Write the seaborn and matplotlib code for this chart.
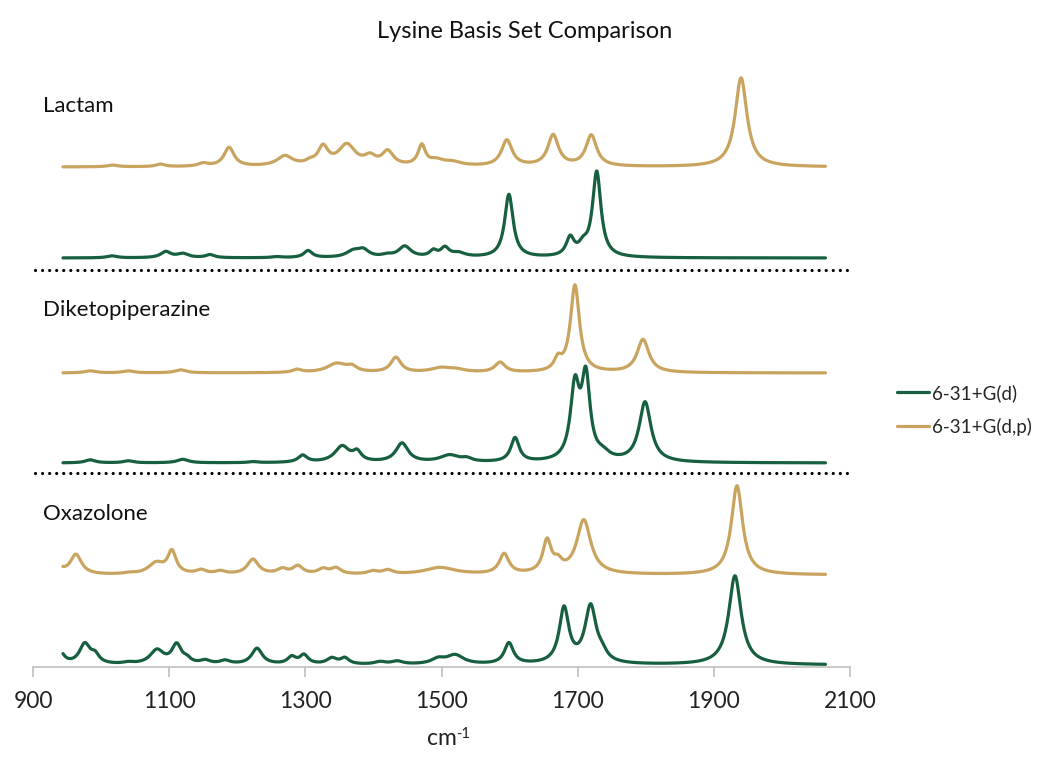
import numpy as np
import pandas as pd
import seaborn as sns
import matplotlib.pyplot as plt
from matplotlib.lines import Line2D

# ---- peak tables (cm-1, relative intensity, FWHM cm-1) ----
lactam_dp_pos = [1017, 1087, 1150, 1188, 1270, 1307, 1326, 1361, 1395, 1421, 1471, 1492, 1515, 1596, 1664, 1720, 1940]
lactam_dp_int = [1.7, 2.5, 3, 19, 10, 3, 18, 21, 8, 14, 20, 5, 4, 26, 31, 31, 89]
lactam_dp_fwhm = [18, 16, 18, 18, 28, 16, 18, 30, 20, 20, 13, 24, 34, 19, 19, 19, 21]

lactam_d_pos = [1016, 1095, 1120, 1160, 1258, 1304, 1370, 1385, 1420, 1446, 1488, 1505, 1525, 1599, 1689, 1708, 1728]
lactam_d_int = [2, 6, 4, 3, 1, 7, 6, 7, 2, 11, 6, 9, 4, 63, 18, 9, 85]
lactam_d_fwhm = [18, 18, 20, 16, 18, 15, 24, 20, 18, 22, 13, 15, 24, 15, 14, 16, 15]

dkp_dp_pos = [984, 1040, 1117, 1288, 1346, 1368, 1433, 1498, 1520, 1586, 1671, 1696, 1796]
dkp_dp_int = [2, 2, 3, 3, 9, 5, 15, 4, 3, 10, 11, 87, 33]
dkp_dp_fwhm = [20, 20, 20, 16, 34, 18, 18, 34, 34, 18, 13, 16, 21]

dkp_d_pos = [984, 1040, 1120, 1223, 1296, 1354, 1376, 1442, 1512, 1537, 1608, 1696, 1712, 1737, 1799]
dkp_d_int = [3, 2, 3.5, 1, 7, 16, 9, 19, 7, 3, 24, 72, 80, 6, 60]
dkp_d_fwhm = [18, 18, 20, 16, 16, 26, 15, 22, 34, 18, 15, 16, 15, 24, 21]

oxa_dp_pos = [940, 963, 1040, 1081, 1104, 1147, 1175, 1223, 1266, 1289, 1326, 1345, 1399, 1421, 1498, 1592, 1655, 1671, 1709, 1934]
oxa_dp_int = [5, 20, 1, 11, 22, 4, 3, 15, 5, 8, 5, 6, 3, 4, 7, 20, 32, 9, 54, 89]
oxa_dp_fwhm = [16, 20, 18, 28, 15, 18, 18, 20, 18, 18, 18, 18, 18, 18, 54, 17, 15, 15, 25, 20]

oxa_d_pos = [940, 976, 991, 1040, 1082, 1111, 1126, 1153, 1182, 1229, 1280, 1298, 1339, 1358, 1410, 1435, 1495, 1520, 1599, 1680, 1719, 1736, 1931]
oxa_d_int = [12, 20, 8, 1.5, 14, 19, 4, 3.5, 3.5, 16, 7, 9, 6, 6, 2.5, 3, 5, 9, 21, 55, 57, 7, 89]
oxa_d_fwhm = [15, 19, 15, 18, 24, 17, 13, 18, 18, 19, 15, 15, 18, 15, 20, 20, 24, 30, 16, 17, 20, 17, 22]

molecules = ["Lactam", "Diketopiperazine", "Oxazolone"]
basis_sets = ["6-31+G(d)", "6-31+G(d,p)"]

# ---- layout / style ----
GREEN = "#17603F"
GOLD = "#C9A45F"
offsets = {("Lactam", "6-31+G(d,p)"): 500, ("Lactam", "6-31+G(d)"): 409,
           ("Diketopiperazine", "6-31+G(d,p)"): 294, ("Diketopiperazine", "6-31+G(d)"): 204,
           ("Oxazolone", "6-31+G(d,p)"): 92, ("Oxazolone", "6-31+G(d)"): 2}
divider_y = [397, 194]
label_y = [561, 357, 153]

wn = np.linspace(944, 2064, 2801)


def broaden(pos, inten, fwhm):
    c = np.asarray(pos, float)[None, :]
    h = np.asarray(inten, float)[None, :]
    g = np.asarray(fwhm, float)[None, :] / 2.0
    return (h / (1.0 + ((wn[:, None] - c) / g) ** 2)).sum(axis=1)


tables = {
    ("Lactam", "6-31+G(d,p)"): (lactam_dp_pos, lactam_dp_int, lactam_dp_fwhm),
    ("Lactam", "6-31+G(d)"): (lactam_d_pos, lactam_d_int, lactam_d_fwhm),
    ("Diketopiperazine", "6-31+G(d,p)"): (dkp_dp_pos, dkp_dp_int, dkp_dp_fwhm),
    ("Diketopiperazine", "6-31+G(d)"): (dkp_d_pos, dkp_d_int, dkp_d_fwhm),
    ("Oxazolone", "6-31+G(d,p)"): (oxa_dp_pos, oxa_dp_int, oxa_dp_fwhm),
    ("Oxazolone", "6-31+G(d)"): (oxa_d_pos, oxa_d_int, oxa_d_fwhm),
}

frames = []
for (mol, basis), (p, i, w) in tables.items():
    frames.append(pd.DataFrame({
        "wavenumber": wn,
        "signal": broaden(p, i, w) + offsets[(mol, basis)],
        "molecule": mol,
        "basis": basis,
        "trace": f"{mol} {basis}",
    }))
df = pd.concat(frames, ignore_index=True)

sns.set_theme(style="white")
plt.rcParams["font.family"] = ["Lato", "DejaVu Sans"]

fig = plt.figure(figsize=(10.38, 7.58), dpi=100)
ax = fig.add_axes([33 / 1038, 91 / 758, 817 / 1038, 607 / 758])

sns.lineplot(data=df, x="wavenumber", y="signal", hue="basis", units="trace",
             estimator=None, sort=False, palette={basis_sets[0]: GREEN, basis_sets[1]: GOLD},
             linewidth=2.3, legend=False, ax=ax)

for y in divider_y:
    ax.plot([903, 2100], [y, y], color="black", linewidth=2.3,
            linestyle=(0, (0.01, 2.2)), dash_capstyle="round", solid_capstyle="round")

for mol, y in zip(molecules, label_y):
    ax.text(915, y, mol, fontsize=16, color="#111111", va="center", ha="left")

ax.set_xlim(900, 2100)
ax.set_ylim(0, 607)
ax.set_xticks([900, 1100, 1300, 1500, 1700, 1900, 2100])
ax.set_yticks([])
for s in ["top", "right", "left"]:
    ax.spines[s].set_visible(False)
ax.spines["bottom"].set_color("#BFBFBF")
ax.spines["bottom"].set_linewidth(1.2)
ax.tick_params(axis="x", direction="out", length=7, width=1.2, color="#BFBFBF",
               labelsize=16.5, labelcolor="#222222", pad=10, bottom=True)
ax.set_xlabel("cm", fontsize=16.5, color="#222222", labelpad=12)
ax.set_ylabel("")
ax.annotate("-1", xy=(1, 1), xycoords=ax.xaxis.label, xytext=(-0.5, -4),
            textcoords="offset points", fontsize=10.5, color="#222222", ha="left", va="center")

fig.text(0.505, 0.958, "Lysine Basis Set Comparison", fontsize=17, ha="center", va="center",
         color="#111111")

handles = [Line2D([], [], color=GREEN, linewidth=2.3), Line2D([], [], color=GOLD, linewidth=2.3)]
fig.legend(handles, basis_sets, loc="center left", bbox_to_anchor=(897 / 1038, 1 - 410 / 758),
           frameon=False, fontsize=13.5, handlelength=1.7, handletextpad=0.15, labelspacing=0.85,
           borderaxespad=0, borderpad=0)

fig.savefig("out.png", dpi=100)
